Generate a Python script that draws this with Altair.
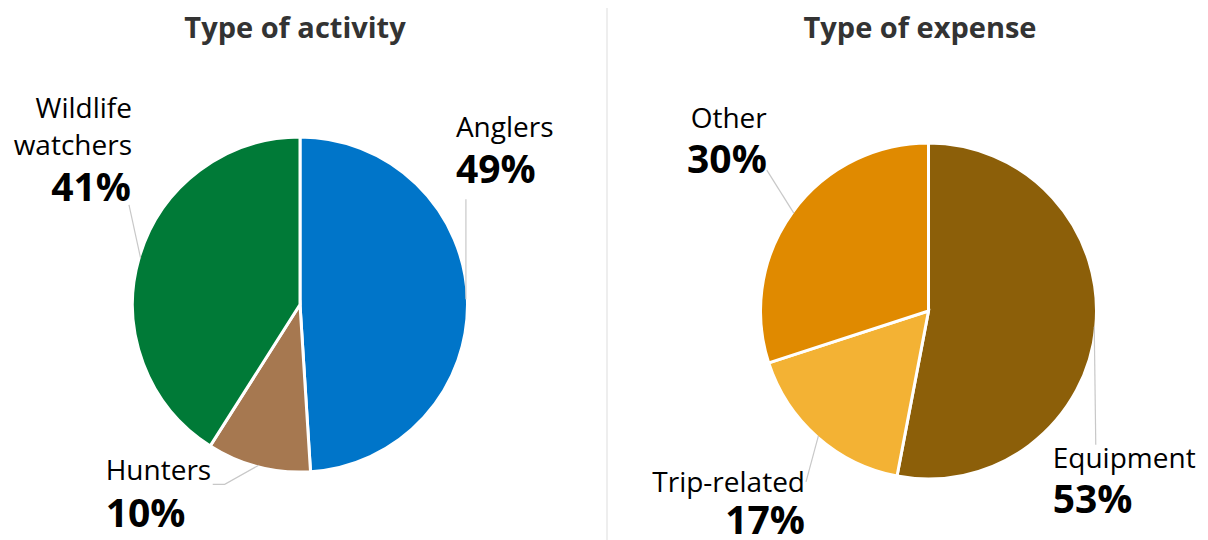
import altair as alt
import numpy as np
import pandas as pd

# ---- data ----
activity_cats = ["Anglers", "Hunters", "Wildlife watchers"]
activity_vals = [49, 10, 41]
expense_cats = ["Equipment", "Trip-related", "Other"]
expense_vals = [53, 17, 30]
activity_colors = ["#0075C9", "#A67850", "#007A37"]
expense_colors = ["#8C5F09", "#F3B234", "#E08A00"]
panel_titles = ["Type of activity", "Type of expense"]
display_names = {"Wildlife watchers": "Wildlife\nwatchers"}

# ---- layout (page pixel units) ----
W, H = 1192, 532
X0, Y0 = 8, 8
pies = [
    dict(key="activity", cats=activity_cats, vals=activity_vals, cx=300, cy=304.5, r=166, tx=295),
    dict(key="expense", cats=expense_cats, vals=expense_vals, cx=928.5, cy=311, r=166.5, tx=920),
]
title_y = 38
sep_x = 607
# leader path offsets from slice edge midpoint; name / pct offsets from leader end
label_layout = {
    "Anglers": dict(lead=[(0, -100)], name=(-10, -62), pct=(-10, -16), align="left"),
    "Hunters": dict(lead=[(-34, 19), (-46, 19)], name=(-107, -4), pct=(-107, 43), align="left"),
    "Wildlife watchers": dict(lead=[(-11.6, -53.2)], name=(3, -87), pct=(2, -4), align="right"),
    "Equipment": dict(lead=[(1.5, 118)], name=(-43, 23), pct=(-43, 68), align="left"),
    "Trip-related": dict(lead=[(-12.4, 46)], name=(-1, 10), pct=(-1, 52), align="right"),
    "Other": dict(lead=[(-27, -43)], name=(0, -42), pct=(0, 3), align="right"),
}

xscale = alt.Scale(domain=[X0, X0 + W], nice=False, zero=False)
yscale = alt.Scale(domain=[Y0, Y0 + H], reverse=True, nice=False, zero=False)
all_cats = activity_cats + expense_cats
all_colors = activity_colors + expense_colors
color_scale = alt.Scale(domain=all_cats, range=all_colors)

layers = []
label_rows, lead_rows = [], []
for p in pies:
    df = pd.DataFrame({"cat": p["cats"], "value": p["vals"], "order": range(len(p["cats"]))})
    layers.append(
        alt.Chart(df).mark_arc(radius=p["r"] + 1.5, stroke="white", strokeWidth=3).encode(
            x=alt.XDatum(p["cx"], type="quantitative", scale=xscale, axis=None),
            y=alt.YDatum(p["cy"], type="quantitative", scale=yscale, axis=None),
            theta=alt.Theta("value:Q", stack=True, scale=alt.Scale(domain=[0, 100])),
            color=alt.Color("cat:N", scale=color_scale, legend=None),
            order=alt.Order("order:Q"),
        )
    )
    start = np.cumsum([0] + p["vals"][:-1])
    for c, v, s in zip(p["cats"], p["vals"], start):
        mid = (s + v / 2) / 100 * 2 * np.pi
        ex = p["cx"] + p["r"] * np.sin(mid)
        ey = p["cy"] - p["r"] * np.cos(mid)
        lay = label_layout[c]
        pts = [(ex, ey)] + [(ex + dx, ey + dy) for dx, dy in lay["lead"]]
        for i, (px, py) in enumerate(pts):
            lead_rows.append(dict(cat=c, seq=i, x=px, y=py))
        endx, endy = pts[-1]
        label_rows.append(dict(
            cat=c, name=display_names.get(c, c), pct=f"{v}%", align=lay["align"],
            nx=endx + lay["name"][0], ny=endy + lay["name"][1],
            px=endx + lay["pct"][0], py=endy + lay["pct"][1],
        ))

lead_df = pd.DataFrame(lead_rows)
lab_df = pd.DataFrame(label_rows)

leaders = alt.Chart(lead_df).mark_line(color="#C8C8C8", strokeWidth=1.2).encode(
    x=alt.X("x:Q", scale=xscale, axis=None),
    y=alt.Y("y:Q", scale=yscale, axis=None),
    detail="cat:N",
    order="seq:Q",
)
layers.append(leaders)

for al in ["left", "right"]:
    sub = lab_df[lab_df["align"] == al]
    layers.append(
        alt.Chart(sub).mark_text(align=al, baseline="alphabetic", font="Open Sans", fontSize=28,
                                 color="#000000", lineBreak="\n", lineHeight=37).encode(
            x=alt.X("nx:Q", scale=xscale, axis=None),
            y=alt.Y("ny:Q", scale=yscale, axis=None),
            text="name:N",
        )
    )
    layers.append(
        alt.Chart(sub).mark_text(align=al, baseline="alphabetic", font="Open Sans", fontSize=39,
                                 fontWeight="bold", color="#000000").encode(
            x=alt.X("px:Q", scale=xscale, axis=None),
            y=alt.Y("py:Q", scale=yscale, axis=None),
            text="pct:N",
        )
    )

title_df = pd.DataFrame({"title": panel_titles, "tx": [p["tx"] for p in pies], "ty": [title_y, title_y]})
layers.append(
    alt.Chart(title_df).mark_text(align="center", baseline="alphabetic", font="Open Sans", fontSize=29,
                                  fontWeight="bold", color="#333333").encode(
        x=alt.X("tx:Q", scale=xscale, axis=None),
        y=alt.Y("ty:Q", scale=yscale, axis=None),
        text="title:N",
    )
)

sep = alt.Chart(pd.DataFrame({"k": [0]})).mark_rule(color="#E8E8E8", strokeWidth=1.5).encode(
    x=alt.XDatum(sep_x, type="quantitative", scale=xscale, axis=None),
    y=alt.YDatum(Y0, type="quantitative", scale=yscale, axis=None),
    y2=alt.Y2Datum(Y0 + H),
)
layers.insert(0, sep)

chart = alt.layer(*layers).properties(
    width=W, height=H, padding=0, autosize=alt.AutoSizeParams(type="none")
).configure_view(stroke=None)

chart.save("out.html", embed_options={"renderer": "svg", "actions": False})
